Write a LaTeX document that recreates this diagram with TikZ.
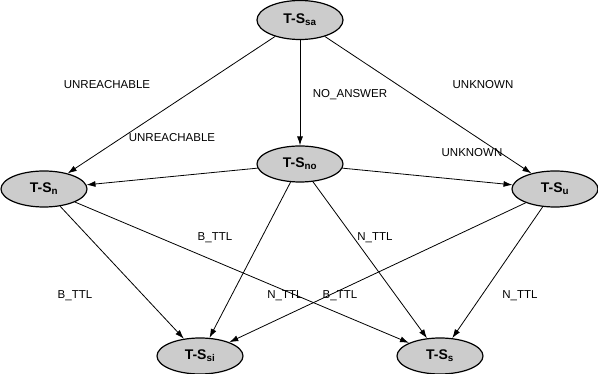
\documentclass[tikz,border=0pt]{standalone}
\usepackage{fontspec}
\setsansfont{Liberation Sans}
\usetikzlibrary{shapes.geometric, arrows.meta}

\tikzset{
  lbl/.style={draw=none, fill=none, font=\sffamily\fontsize{11.5}{13}\selectfont, inner sep=0}
}

\begin{document}
\begin{tikzpicture}[x=1pt, y=-1pt]
        \useasboundingbox (0,0) rectangle (598,374);
                \begin{scope}[every node/.style={very thick, draw, ellipse, fill=gray!40, minimum width=86pt, minimum height=36pt, inner sep=0, font=\sffamily\bfseries\fontsize{14}{16}\selectfont}, every path/.style={thick, ->, >={Latex[length=9pt,width=6pt]}}]
                        \node [minimum height=39pt] (SA) at (300,20) {T-S\textsubscript{sa}};
                        \node (NO) at (300,164) {T-S\textsubscript{no}};
                        \node (N) at (44,189) {T-S\textsubscript{n}};
                        \node (U) at (555,189) {T-S\textsubscript{u}};
                        \node (SI) at (200,356) {T-S\textsubscript{si}};
                        \node (S) at (440,356) {T-S\textsubscript{s}};

                        \path (SA) edge (NO);
                        \path (SA) edge (N);
                        \path (SA) edge (U);
                        \path (NO) edge (N);
                        \path (NO) edge (U);
                        \path (NO) edge (SI);
                        \path (NO) edge (S);
                        \path (N) edge (SI);
                        \path (N) edge (S);
                        \path (U) edge (SI);
                        \path (U) edge (S);
               \end{scope}
               \node [lbl] (t1) at (107,85) {UNREACHABLE};
               \node [lbl] (t2) at (350,95) {NO\_ANSWER};
               \node [lbl] (t3) at (483,85) {UNKNOWN};
               \node [lbl] (t4) at (172,138) {UNREACHABLE};
               \node [lbl] (t5) at (472,153) {UNKNOWN};
               \node [lbl] (t6) at (215,238) {B\_TTL};
               \node [lbl] (t7) at (375,238) {N\_TTL};
               \node [lbl] (t8) at (75,296) {B\_TTL};
               \node [lbl] (t9) at (285,296) {N\_TTL};
               \node [lbl] (t10) at (340,296) {B\_TTL};
               \node [lbl] (t11) at (520,296) {N\_TTL};
        \end{tikzpicture}
\end{document}
